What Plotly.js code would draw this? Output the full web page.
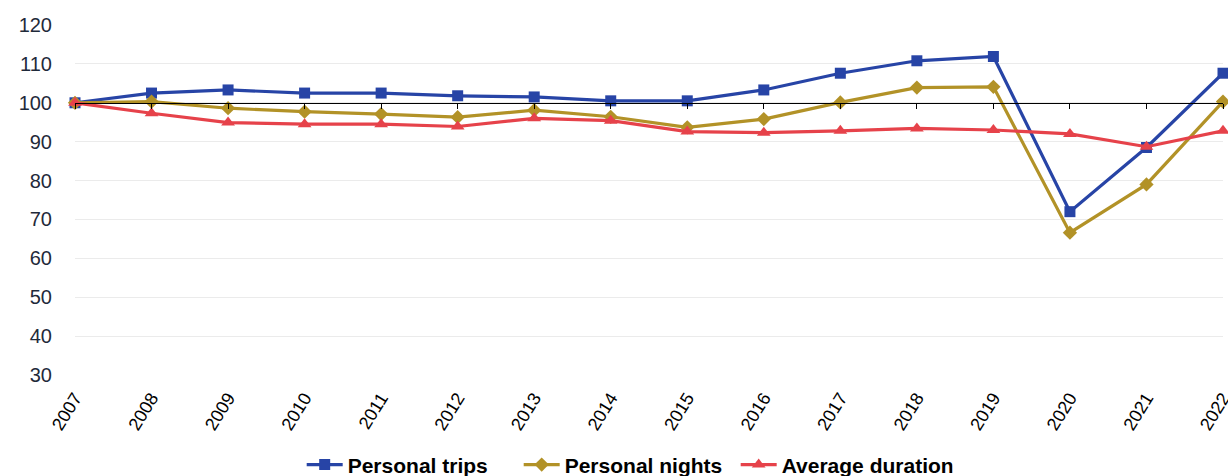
<!DOCTYPE html>
<html>
<head>
<meta charset="utf-8">
<script src="https://cdn.plot.ly/plotly-3.0.1.min.js"></script>
<style>
  html, body { margin: 0; padding: 0; background: #ffffff; }
  #chart { width: 1228px; height: 476px; }
</style>
</head>
<body>
<div id="chart"></div>
<script>
// Index values, 2007 = 100
const years = ["2007", "2008", "2009", "2010", "2011", "2012", "2013", "2014",
               "2015", "2016", "2017", "2018", "2019", "2020", "2021", "2022"];
const personalTrips = [100, 102.5, 103.3, 102.5, 102.5, 101.8, 101.5, 100.5,
                       100.5, 103.3, 107.6, 110.8, 111.9, 72.0, 88.5, 107.6];
const personalNights = [100, 100.3, 98.6, 97.7, 97.1, 96.3, 98.1, 96.4,
                        93.7, 95.8, 100.1, 103.9, 104.1, 66.6, 79.0, 100.3];
const averageDuration = [100, 97.3, 94.9, 94.5, 94.5, 93.9, 96.0, 95.4,
                         92.6, 92.3, 92.8, 93.4, 93.0, 92.0, 88.7, 92.8];
const yTicks = [30, 40, 50, 60, 70, 80, 90, 100, 110, 120];

const baseValue = 100;
const yMin = 30, yMax = 120;

function series(name, values, color, symbol, size) {
  return {
    type: "scatter",
    mode: "lines+markers",
    name: name,
    x: years.map((_, i) => i),
    y: values,
    line: { color: color, width: 3.2 },
    marker: { color: color, symbol: symbol, size: size },
    cliponaxis: false
  };
}

const traces = [
  series("Personal trips", personalTrips, "#2744A6", "square", 11),
  series("Personal nights", personalNights, "#B29227", "diamond", 11),
  series("Average duration", averageDuration, "#E6424A", "triangle-up", 12)
];

// Dummy trace carrying the axis drawn through the base value (ticks only)
traces.push({
  type: "scatter", x: [0, years.length - 1], y: [baseValue, baseValue],
  xaxis: "x2", mode: "none", showlegend: false, hoverinfo: "skip"
});

const layout = {
  width: 1228,
  height: 476,
  margin: { l: 75, r: 5, t: 25, b: 101, autoexpand: false },
  paper_bgcolor: "#ffffff",
  plot_bgcolor: "#ffffff",
  font: { family: "Liberation Sans, Arial, sans-serif" },
  showlegend: true,
  legend: {
    orientation: "h",
    x: 0.481, xanchor: "center",
    y: -0.257, yanchor: "middle",
    font: { size: 21, color: "#000000", weight: "bold" },
    itemwidth: 36,
    entrywidth: 166,
    entrywidthmode: "pixels",
    tracegroupgap: 0
  },
  xaxis: {
    range: [0, years.length - 1],
    tickmode: "array",
    tickvals: years.map((_, i) => i),
    ticktext: years,
    tickangle: -58,
    tickfont: { size: 18, color: "#000000" },
    ticklabeloverflow: "allow",
    automargin: false,
    showgrid: false,
    zeroline: false,
    showline: false,
    ticks: "",
    ticklabelstandoff: 8,
    fixedrange: true
  },
  xaxis2: {
    overlaying: "x",
    anchor: "free",
    position: (baseValue - yMin) / (yMax - yMin),
    side: "bottom",
    range: [0, years.length - 1],
    tickmode: "array",
    tickvals: years.map((_, i) => i),
    showticklabels: false,
    showline: true,
    linecolor: "#000000",
    linewidth: 1,
    ticks: "outside",
    ticklen: 5,
    tickcolor: "#000000",
    showgrid: false,
    zeroline: false,
    automargin: false
  },
  yaxis: {
    range: [yMin, yMax],
    tickmode: "array",
    tickvals: yTicks,
    tickfont: { size: 20, color: "#1F2A3A" },
    automargin: false,
    showgrid: true,
    gridcolor: "#EBEBEB",
    gridwidth: 1,
    zeroline: false,
    showline: false,
    ticks: "",
    ticklabelstandoff: 22,
    fixedrange: true
  }
};

Plotly.newPlot("chart", traces, layout, { displayModeBar: false, staticPlot: true });
</script>
</body>
</html>
